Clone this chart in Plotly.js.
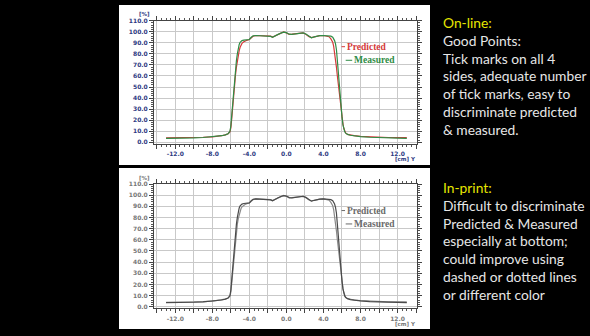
<!DOCTYPE html>
<html><head><meta charset="utf-8">
<script src="https://cdn.plot.ly/plotly-3.0.1.min.js"></script>
<style>html,body{margin:0;padding:0;background:#000;overflow:hidden;} #chart{width:590px;height:336px;}</style>
</head><body><div id="chart"></div>
<script>
// ---- data ----
const positionCm = [-13,-12,-11,-10,-9,-8,-7.5,-7,-6.6,-6.3,-6.1,-6.0,-5.9,-5.8,-5.7,-5.6,-5.5,-5.4,-5.3,-5.2,-5.1,-5.0,-4.9,-4.8,-4.6,-4.4,-4.2,-4.0,-3.8,-3.6,-3.3,-3.0,-2.5,-2.0,-1.7,-1.5,-1.2,-0.9,-0.6,-0.3,0.0,0.3,0.6,0.9,1.2,1.5,1.8,2.1,2.4,2.7,3.0,3.3,3.6,4.0,4.3,4.6,4.8,5.0,5.1,5.2,5.3,5.4,5.5,5.6,5.7,5.8,5.9,6.0,6.1,6.2,6.3,6.4,6.6,6.9,7.3,8,9,10,11,12,13];
const predicted = [4.0,4.0,4.1,4.2,4.6,5.0,5.4,6.0,6.8,7.8,9.5,13,22,33,43,52,61,68,74,79,83,86,88,89.5,91,92,92.5,93,94.5,96,96.6,96.5,96.8,96.2,96,95.2,96.3,97.8,99,99.8,99,97.6,97.8,98.2,98.4,98.8,98.9,97.8,95.8,94.8,95.6,96.3,96.5,96.6,96.3,95.5,93.5,90.5,87,82,76,68,60,52,44,37,30,23,17,12.5,10,8.5,7.2,6.5,6.0,5.4,4.9,4.6,4.4,4.3,4.3];
const measured = [3.6,3.6,3.8,4.0,4.4,4.9,5.3,6.0,6.8,7.8,10,15,25,36,47,57,66,74,80,85,88.5,90.5,91.5,92,92.5,92.6,92.4,93,95,96.3,96.6,96.4,96.7,96.3,95.8,95,96,97.6,98.8,99.6,99.2,97.8,97.6,98,98.3,98.7,99,98,96,94.6,95.4,96.2,96.5,96.6,96.5,96.3,96,95,94,92,89,84,74,62,50,40,31,23,16,11.5,9.5,8.3,7.2,6.4,5.8,5.2,4.6,4.2,3.9,3.7,3.6];
const seriesNames = ['Predicted','Measured'];
const xTickValues = [-14,-12,-10,-8,-6,-4,-2,0,2,4,6,8,10,12,14];
const xTickLabels = ['','-12.0','','-8.0','','-4.0','','0.0','','4.0','','8.0','','12.0',''];
const yTickValues = [0,10,20,30,40,50,60,70,80,90,100,110];
const yTickLabels = ['0.0','10.0','20.0','30.0','40.0','50.0','60.0','70.0','80.0','90.0','100.0','110.0'];
const yUnit = '[%]';
const xUnit = '[cm] Y';
const onlineHeading = 'On-line:';
const onlineLines = ['Good Points:','Tick marks on all 4','sides, adequate number','of tick marks, easy to','discriminate predicted','&amp; measured.'];
const printHeading = 'In-print:';
const printLines = ['Difficult to discriminate','Predicted &amp; Measured','especially at bottom;','could improve using','dashed or dotted lines','or different color'];

// ---- layout helpers ----
const W = 590, H = 336;
const px = v => v / W;
const py = v => 1 - v / H;

function xAxis(anchor, labelColor) {
  return {
    anchor: anchor, domain: [px(154), px(417)], range: [-14.3, 14.1],
    tickmode: 'array', tickvals: xTickValues, ticktext: xTickLabels,
    ticks: 'outside', ticklen: 4, tickwidth: 1, tickcolor: '#444',
    showline: true, linecolor: '#444', linewidth: 1, mirror: 'ticks',
    showgrid: true, gridcolor: '#c9c9c9', gridwidth: 1, zeroline: false,
    minor: {dtick: 0.5, ticklen: 2, tickcolor: '#555', ticks: 'outside', showgrid: false},
    tickfont: {family: 'DejaVu Sans', size: 6, color: labelColor, weight: 'bold'},
    fixedrange: true
  };
}
function yAxis(anchor, dom, labelColor) {
  return {
    anchor: anchor, domain: dom, range: [-1.5, 110],
    tickmode: 'array', tickvals: yTickValues, ticktext: yTickLabels,
    ticks: 'outside', ticklen: 4, tickwidth: 1, tickcolor: '#444',
    showline: true, linecolor: '#444', linewidth: 1, mirror: 'ticks',
    showgrid: true, gridcolor: '#c9c9c9', gridwidth: 1, zeroline: false,
    minor: {dtick: 2, ticklen: 2, tickcolor: '#555', ticks: 'outside', showgrid: false},
    tickfont: {family: 'DejaVu Sans', size: 6, color: labelColor, weight: 'bold'},
    fixedrange: true
  };
}

const traces = [
  {x: positionCm, y: predicted, name: seriesNames[0], xaxis: 'x', yaxis: 'y', mode: 'lines', line: {color: '#d43a3a', width: 1.2}},
  {x: positionCm, y: measured, name: seriesNames[1], xaxis: 'x', yaxis: 'y', mode: 'lines', line: {color: '#2f8c45', width: 1.2}},
  {x: positionCm, y: predicted, name: seriesNames[0], xaxis: 'x2', yaxis: 'y2', mode: 'lines', line: {color: '#8a8a8a', width: 1.2}},
  {x: positionCm, y: measured, name: seriesNames[1], xaxis: 'x2', yaxis: 'y2', mode: 'lines', line: {color: '#4a4a4a', width: 1.2}}
];

const serif = 'Liberation Serif';
const ann = [];
function seriesLabel(xr, yr, text, color, hx, hy, ax, ay) {
  ann.push({xref: xr, yref: yr, x: hx, y: hy, text: text, showarrow: true, arrowhead: 0,
    arrowwidth: 1, arrowcolor: color, ax: ax, ay: ay, standoff: 0,
    font: {family: serif, size: 9.5, color: color, weight: 'bold'}});
}
seriesLabel('x', 'y', '<b>' + seriesNames[0] + '</b>', '#d43a3a', 5.95, 86.5, 25, 0);
seriesLabel('x', 'y', '<b>' + seriesNames[1] + '</b>', '#2f8c45', 6.4, 74.2, 28.5, 0);
seriesLabel('x2', 'y2', '<b>' + seriesNames[0] + '</b>', '#6a6a6a', 5.95, 86.2, 25, 0);
seriesLabel('x2', 'y2', '<b>' + seriesNames[1] + '</b>', '#6a6a6a', 6.4, 74.2, 28.5, 0);

function unitLabel(text, x, y, color, anchor) {
  ann.push({xref: 'paper', yref: 'paper', x: px(x), y: py(y), text: text, showarrow: false,
    xanchor: anchor || 'center', yanchor: 'middle', font: {family: 'DejaVu Sans', size: 5.5, color: color, weight: 'bold'}});
}
unitLabel(yUnit, 144.3, 14, '#2e3a82');
unitLabel(xUnit, 418, 158.5, '#2e3a82', 'right');
unitLabel(yUnit, 144.3, 178, '#777');
unitLabel(xUnit, 418, 323.5, '#777', 'right');

function textBlock(heading, lines, y0) {
  const all = [heading].concat(lines);
  all.forEach((t, i) => {
    ann.push({xref: 'paper', yref: 'paper', x: px(441), y: py(y0 + i * 17.7), text: t, showarrow: false,
      xanchor: 'left', yanchor: 'middle',
      font: {family: 'Lato', size: 13.8, color: i === 0 ? '#e6e600' : '#e6e6e6'}});
  });
}
textBlock(onlineHeading, onlineLines, 22.8);
textBlock(printHeading, printLines, 187.8);

const layout = {
  width: W, height: H, margin: {l: 0, r: 0, t: 0, b: 0},
  paper_bgcolor: '#000', plot_bgcolor: '#fff', showlegend: false,
  xaxis: xAxis('y', '#2e3a82'), yaxis: yAxis('x', [py(144), py(20.7)], '#2e3a82'),
  xaxis2: xAxis('y2', '#777'), yaxis2: yAxis('x2', [py(308.4), py(184)], '#777'),
  shapes: [
    {type: 'rect', xref: 'paper', yref: 'paper', x0: px(119), x1: px(430), y0: py(165), y1: py(5), fillcolor: '#fff', line: {width: 0}, layer: 'below'},
    {type: 'rect', xref: 'paper', yref: 'paper', x0: px(119), x1: px(430), y0: py(329), y1: py(168), fillcolor: '#fff', line: {width: 0}, layer: 'below'}
  ],
  annotations: ann
};
Plotly.newPlot('chart', traces, layout, {staticPlot: true, displayModeBar: false});
</script>
</body></html>
